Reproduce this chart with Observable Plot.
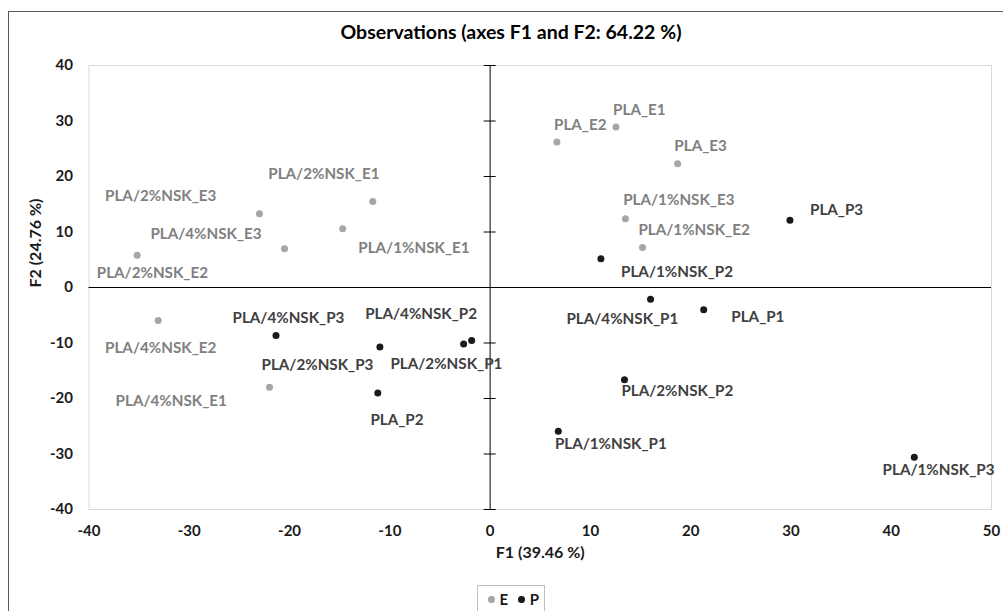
<!DOCTYPE html>
<html>
<head>
<meta charset="utf-8">
<script src="https://cdn.jsdelivr.net/npm/d3@7"></script>
<script src="https://cdn.jsdelivr.net/npm/@observablehq/plot@0.6"></script>
<style>
  html, body { margin: 0; padding: 0; background: #fff; width: 1003px; height: 611px; overflow: hidden; }
  body { position: relative; font-family: Lato, "Liberation Sans", sans-serif; }
  #border { position: absolute; left: 8px; top: 11px; width: 1100px; height: 700px; border: 1px solid #595959; box-sizing: border-box; }
  #title { position: absolute; left: 8px; width: 1006px; top: 20px; text-align: center; font-weight: bold; font-size: 19.5px; color: #000; line-height: 24px; }
  #chart { position: absolute; left: 0; top: 50px; }
  #legend { position: absolute; left: 477px; top: 585px; width: 68px; height: 40px; box-sizing: border-box; border: 1px solid #bfbfbf; padding: 3px 0 0 10px; font-weight: bold; font-size: 15px; color: #1a1a1a; display: flex; align-items: flex-start; gap: 5px; white-space: nowrap; line-height: 20px; }
  #legend .sw { display: inline-block; width: 7px; height: 7px; border-radius: 50%; margin-top: 7px; }
  #legend .lb { margin-right: 5px; }
</style>
</head>
<body>
<div id="border"></div>
<div id="title">Observations (axes F1 and F2: 64.22 %)</div>
<div id="chart"></div>
<div id="legend"></div>
<script>
// ---- data ----
const names = [
  "PLA_E1", "PLA_E2", "PLA_E3",
  "PLA/1%NSK_E1", "PLA/1%NSK_E2", "PLA/1%NSK_E3",
  "PLA/2%NSK_E1", "PLA/2%NSK_E2", "PLA/2%NSK_E3",
  "PLA/4%NSK_E1", "PLA/4%NSK_E2", "PLA/4%NSK_E3",
  "PLA_P1", "PLA_P2", "PLA_P3",
  "PLA/1%NSK_P1", "PLA/1%NSK_P2", "PLA/1%NSK_P3",
  "PLA/2%NSK_P1", "PLA/2%NSK_P2", "PLA/2%NSK_P3",
  "PLA/4%NSK_P1", "PLA/4%NSK_P2", "PLA/4%NSK_P3"
];
const groups = [
  "E","E","E","E","E","E","E","E","E","E","E","E",
  "P","P","P","P","P","P","P","P","P","P","P","P"
];
const f1Values = [
  12.55, 6.66, 18.7,
  -14.7, 15.2, 13.5,
  -11.7, -35.2, -23.0,
  -22.0, -33.1, -20.5,
  21.3, -11.2, 29.9,
  6.8, 11.05, 42.3,
  -2.64, 13.4, -10.99,
  16.0, -1.84, -21.35
];
const f2Values = [
  28.9, 26.2, 22.3,
  10.6, 7.2, 12.4,
  15.5, 5.8, 13.3,
  -17.96, -5.95, 7.0,
  -4.0, -19.0, 12.1,
  -25.9, 5.2, -30.6,
  -10.2, -16.6, -10.7,
  -2.1, -9.55, -8.65
];
// label anchor positions (in F1/F2 units)
const labelF1 = [
  14.88, 8.99, 20.99,
  -7.6, 20.34, 18.82,
  -16.58, -33.68, -32.85,
  -31.8, -32.85, -28.33,
  26.7, -9.29, 34.55,
  12.04, 18.64, 44.72,
  -4.36, 18.67, -17.22,
  13.19, -6.88, -20.11
];
const labelF2 = [
  31.9, 29.2, 25.5,
  7.15, 10.4, 15.8,
  20.5, 2.58, 16.45,
  -20.4, -10.9, 9.67,
  -5.4, -23.96, 14.0,
  -28.3, 2.76, -32.97,
  -13.75, -18.74, -14.05,
  -5.77, -4.74, -5.46
];
const xTicks = [-40, -30, -20, -10, 0, 10, 20, 30, 40, 50];
const yTicks = [-40, -30, -20, -10, 0, 10, 20, 30, 40];
const legendGroups = ["E", "P"];
const xTitle = "F1 (39.46 %)";
const yTitle = "F2 (24.76 %)";

const dotColor = {E: "#a6a6a6", P: "#1a1a1a"};
const textColor = {E: "#808080", P: "#404040"};

const obs = names.map((n, i) => ({
  name: n, group: groups[i], F1: f1Values[i], F2: f2Values[i], lx: labelF1[i], ly: labelF2[i]
}));

const fmt = d => String(d);

const chart = Plot.plot({
  width: 1003,
  height: 520,
  marginLeft: 88.5,
  marginRight: 12,
  marginTop: 15,
  marginBottom: 61,
  x: {domain: [-40, 50]},
  y: {domain: [-40, 40]},
  style: {fontFamily: "Lato, 'Liberation Sans', sans-serif", fontSize: "15px", fontWeight: "bold", color: "#1a1a1a", background: "transparent", overflow: "visible"},
  marks: [
    Plot.frame({stroke: "#d9d9d9"}),
    Plot.ruleY([0], {stroke: "#000", strokeWidth: 1}),
    Plot.ruleX([0], {stroke: "#000", strokeWidth: 1}),
    Plot.ruleY(yTicks, {y: d => d, x1: 0, x2: 0, insetLeft: -6, insetRight: -6, stroke: "#000"}),
    Plot.axisX(xTicks, {tickSize: 0, tickPadding: 16, tickFormat: fmt, label: null, fontSize: 15, fontWeight: "bold"}),
    Plot.axisY(yTicks, {tickSize: 0, tickPadding: 16, tickFormat: fmt, label: null, fontSize: 15, fontWeight: "bold"}),
    Plot.dot(obs, {x: "F1", y: "F2", r: 3.5, fill: d => dotColor[d.group], stroke: "none"}),
    Plot.text(obs, {x: "lx", y: "ly", text: "name", fill: d => textColor[d.group], fontSize: 15.2, fontWeight: "bold"}),
    Plot.text([xTitle], {frameAnchor: "bottom", text: d => d, dy: 48, fontSize: 16, fontWeight: "bold", fill: "#1a1a1a"}),
    Plot.text([yTitle], {frameAnchor: "left", text: d => d, dx: -53, rotate: -90, fontSize: 16, fontWeight: "bold", fill: "#1a1a1a"})
  ]
});
document.getElementById("chart").appendChild(chart);

const legend = document.getElementById("legend");
legendGroups.forEach(g => {
  const sw = document.createElement("span");
  sw.className = "sw";
  sw.style.background = dotColor[g];
  const lb = document.createElement("span");
  lb.className = "lb";
  lb.textContent = g;
  legend.appendChild(sw);
  legend.appendChild(lb);
});
</script>
</body>
</html>
